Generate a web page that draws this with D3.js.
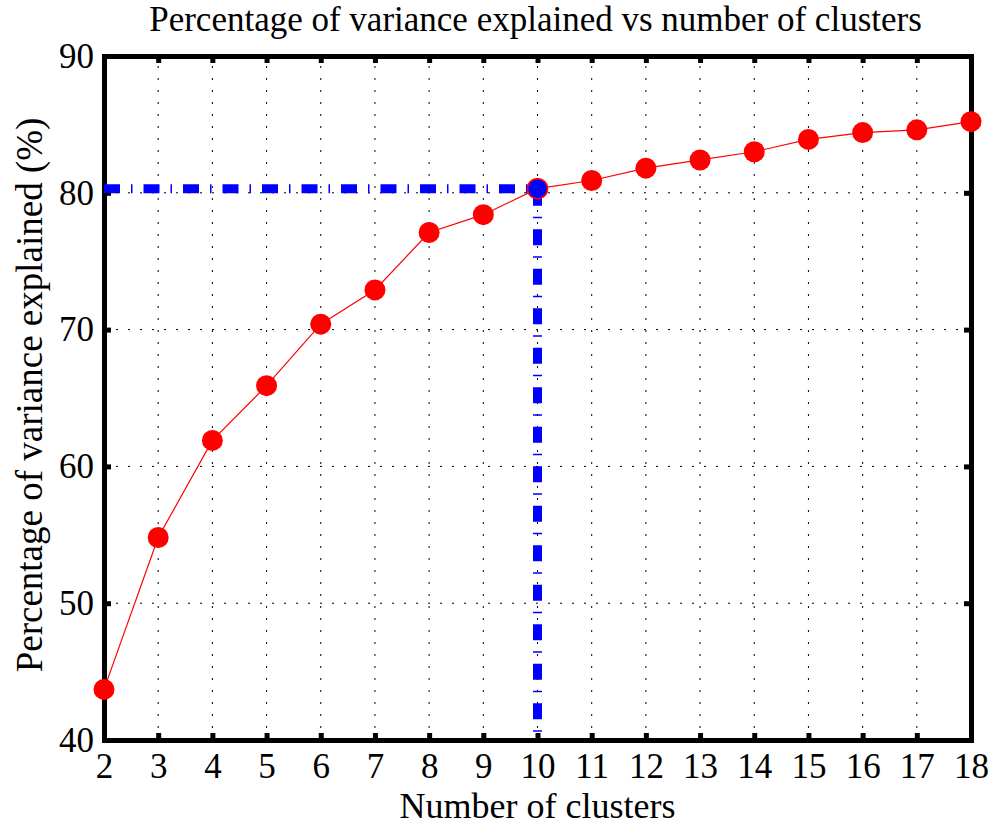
<!DOCTYPE html>
<html>
<head>
<meta charset="UTF-8">
<title>Variance explained</title>
<script src="https://cdn.jsdelivr.net/npm/d3@7"></script>
<style>
  body { margin: 0; background: #fff; }
  text { font-family: "Liberation Serif", "Times New Roman", serif; fill: #000; }
</style>
</head>
<body>
<svg width="998" height="834"></svg>
<script>
const width = 998;
const height = 834;
const margin = {top: 56, left: 104, bottom: 94, right: 27};

// clusters vs % variance explained
const clusters = [2, 3, 4, 5, 6, 7, 8, 9, 10, 11, 12, 13, 14, 15, 16, 17, 18];
const explained = [43.7, 54.8, 61.9, 65.9, 70.4, 72.9, 77.1, 78.4, 80.3, 80.9, 81.8, 82.4, 83.0, 83.9, 84.4, 84.6, 85.2];
const yTicks = [40, 50, 60, 70, 80, 90];
const chosenK = 10;

const chosenV = explained[clusters.indexOf(chosenK)];

const x = d3.scaleLinear()
    .domain([2, 18])
    .range([margin.left, width - margin.right]);

const y = d3.scaleLinear()
    .domain([40, 90])
    .range([height - margin.bottom, margin.top]);

const svg = d3.select('svg');

// dotted grid
const grid = svg.append('g')
    .attr('stroke', '#000')
    .attr('stroke-width', 1)
    .attr('stroke-dasharray', '2 10');
grid.selectAll('.gx').data(clusters.slice(1, -1)).enter().append('line')
    .attr('x1', d => x(d)).attr('x2', d => x(d))
    .attr('y1', y(40)).attr('y2', y(90));
grid.selectAll('.gy').data(yTicks.slice(1, -1)).enter().append('line')
    .attr('y1', d => y(d)).attr('y2', d => y(d))
    .attr('x1', x(2)).attr('x2', x(18));

// axes, ticks inward
const xAxis = g => g
    .attr('transform', `translate(0, ${height - margin.bottom})`)
    .call(d3.axisBottom(x).tickValues(clusters).tickFormat(d3.format('d')).tickSizeInner(-7).tickSizeOuter(0).tickPadding(13));
const xAxisTop = g => g
    .attr('transform', `translate(0, ${margin.top})`)
    .call(d3.axisTop(x).tickValues(clusters).tickFormat('').tickSizeInner(-7).tickSizeOuter(0));
const yAxis = g => g
    .attr('transform', `translate(${margin.left}, 0)`)
    .call(d3.axisLeft(y).tickValues(yTicks).tickSizeInner(-7).tickSizeOuter(0).tickPadding(10));
const yAxisRight = g => g
    .attr('transform', `translate(${width - margin.right}, 0)`)
    .call(d3.axisRight(y).tickValues(yTicks).tickFormat('').tickSizeInner(-7).tickSizeOuter(0));

[xAxis, xAxisTop, yAxis, yAxisRight].forEach(a => {
  svg.append('g').call(a)
    .call(g => g.selectAll('.domain').attr('stroke-width', 5).attr('stroke-linecap', 'square'))
    .call(g => g.selectAll('.tick line').attr('stroke-width', 5))
    .call(g => g.selectAll('.tick text').style('font-size', '35px'));
});

// red line with markers
const line = d3.line().x(d => x(d[0])).y(d => y(d[1]));
const pts = d3.zip(clusters, explained);

svg.append('path')
    .datum(pts)
    .attr('fill', 'none')
    .attr('stroke', '#ff0000')
    .attr('stroke-width', 1.2)
    .attr('d', line);

svg.append('g')
    .selectAll('circle').data(pts).enter().append('circle')
    .attr('cx', d => x(d[0]))
    .attr('cy', d => y(d[1]))
    .attr('r', 10.5)
    .attr('fill', '#ff0000');

// blue dash-dot guide lines to chosen k
svg.append('path')
    .attr('fill', 'none')
    .attr('stroke', '#0000ff')
    .attr('stroke-width', 9)
    .attr('stroke-dasharray', '16 11 1.5 11')
    .attr('d', d3.line()([[x(2), y(chosenV)], [x(chosenK), y(chosenV)], [x(chosenK), y(40)]]));

svg.append('circle')
    .attr('cx', x(chosenK))
    .attr('cy', y(chosenV))
    .attr('r', 10)
    .attr('fill', '#0000ff')
    .attr('stroke', '#ff0000')
    .attr('stroke-width', 1.5);

// titles
svg.append('text')
    .attr('x', (x(2) + x(18)) / 2 - 2)
    .attr('y', 31)
    .attr('text-anchor', 'middle')
    .attr('font-size', 35)
    .text('Percentage of variance explained vs number of clusters');

svg.append('text')
    .attr('x', (x(2) + x(18)) / 2)
    .attr('y', 818)
    .attr('text-anchor', 'middle')
    .attr('font-size', 36)
    .text('Number of clusters');

svg.append('text')
    .attr('transform', `translate(42, ${(y(40) + y(90)) / 2 - 3}) rotate(-90)`)
    .attr('text-anchor', 'middle')
    .attr('font-size', 37)
    .text('Percentage of variance explained (%)');
</script>
</body>
</html>
